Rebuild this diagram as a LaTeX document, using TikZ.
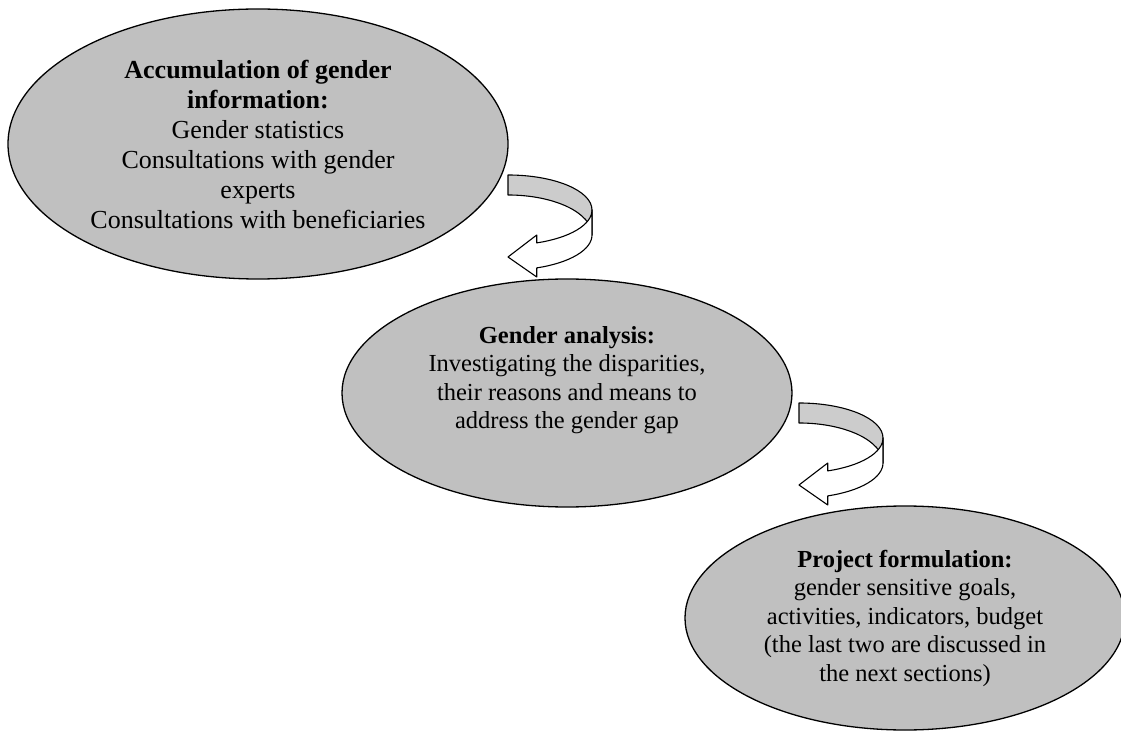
\documentclass[tikz,border=0pt]{standalone}
\usepackage{fontspec}
\setmainfont{Liberation Serif}
\usetikzlibrary{shapes.geometric}
\definecolor{shade}{HTML}{C0C0C0}
\definecolor{band}{HTML}{CCCCCC}
\begin{document}
\begin{tikzpicture}
  [
    x = 1pt, y = 1pt,
    stage/.style = {draw, ellipse, fill = shade, line width = 1.3pt,
                    align = center, inner sep = 0pt, outer sep = 0pt},
    big/.style = {font = \fontsize{26}{30}\selectfont},
    small/.style = {font = \fontsize{24.5}{28.5}\selectfont},
    turn arrow/.pic = {
      % back of the band
      \draw[fill = band, line width = 1.1pt, line join = round]
        (0,35) arc[start angle = 90, end angle = 0, x radius = 84, y radius = 35]
        -- (84,-25) arc[start angle = 0, end angle = 90, x radius = 84, y radius = 40]
        -- cycle;
      % front of the band with its head
      \draw[fill = white, line width = 1.1pt, line join = round]
        (84,0) arc[start angle = 0, end angle = -70, x radius = 84, y radius = 35]
        -- (28.73,-25) -- (0,-47) -- (28.73,-67) -- (28.73,-57.89)
        arc[start angle = -70, end angle = 0, x radius = 84, y radius = 35]
        -- cycle;
    }
  ]
  \clip (0,0) rectangle (1121,734);
  \node[stage, big, minimum width = 500, minimum height = 270] (Info) at (258,590)
    {\textbf{Accumulation of gender}\\ \textbf{information:}\\ Gender statistics\\
     Consultations with gender\\ experts\\ Consultations with beneficiaries};
  \node[stage, minimum width = 450, minimum height = 228] (Analysis) at (567,341) {};
  \node[small, align = center] (AnalysisText) at ([yshift = 13]Analysis.center)
    {\textbf{Gender analysis:}\\ Investigating the disparities,\\
     their reasons and means to\\ address the gender gap};
  \node[stage, small, minimum width = 440, minimum height = 224] (Project) at (905,116)
    {\textbf{Project formulation:}\\ gender sensitive goals,\\
     activities, indicators, budget\\ (the last two are discussed in\\ the next sections)};
  \coordinate (BendA) at (508,524);
  \coordinate (BendB) at (799,296);
  \pic at (BendA) {turn arrow};
  \pic at (BendB) {turn arrow};
\end{tikzpicture}
\end{document}
